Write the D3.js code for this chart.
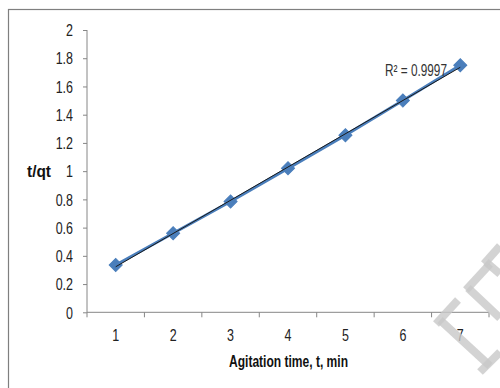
<!DOCTYPE html>
<html><head><meta charset="utf-8">
<script src="https://cdn.jsdelivr.net/npm/d3@7"></script>
<style>body{margin:0;background:#fff}svg{display:block}</style>
</head><body>
<script>
const categories = ["1","2","3","4","5","6","7"];
const tValues = [1,2,3,4,5,6,7];
const tqtValues = [0.335, 0.56, 0.785, 1.02, 1.255, 1.5, 1.75];
const yTicks = [0,0.2,0.4,0.6,0.8,1,1.2,1.4,1.6,1.8,2];
const trendLabel = "R² = 0.9997";

const W=500,H=388;
const svg=d3.select("body").append("svg").attr("width",W).attr("height",H);
svg.append("rect").attr("x",8.5).attr("y",9.5).attr("width",600).attr("height",600)
  .attr("fill","#fff").attr("stroke","#7f7f7f").attr("stroke-width",1.2);

const font="'Liberation Sans',Arial,sans-serif";
const SX=0.78;
const x=d3.scaleBand().domain(categories).range([87,489]);
const y=d3.scaleLinear().domain([0,2]).range([312.3,30]);
const axisColor="#868686";

// y axis
const ya=svg.append("g").attr("transform","translate(87,0)")
  .call(d3.axisLeft(y).tickValues(yTicks).tickSize(4).tickPadding(14).tickFormat(d3.format("~g")));
ya.select(".domain").attr("stroke",axisColor).attr("d",`M0,${y(2)}V${y(0)}`);
ya.selectAll(".tick line").attr("stroke",axisColor);
ya.selectAll(".tick text").attr("font-family",font).attr("font-size",16).attr("fill","#222")
  .attr("dy","0.36em").attr("transform",`scale(${SX},1)`);

// x axis with boundary ticks
const xa=svg.append("g").attr("transform",`translate(0,${y(0)})`)
  .call(d3.axisBottom(x).tickSize(0).tickPadding(17.5));
xa.select(".domain").attr("stroke",axisColor).attr("d",`M87,0H489`);
xa.selectAll(".tick text").attr("font-family",font).attr("font-size",16).attr("fill","#222")
  .attr("transform",`scale(${SX},1)`);
const bounds=categories.map(c=>x(c)).concat([x.range()[1]]);
xa.selectAll(".bt").data(bounds).enter().append("line")
  .attr("x1",d=>d).attr("x2",d=>d).attr("y1",0).attr("y2",5).attr("stroke",axisColor);

// data line
const cx=(d,i)=>x(categories[i])+x.bandwidth()/2;
const pts=tqtValues.map((v,i)=>[cx(v,i),y(v)]);
svg.append("path").attr("d",d3.line()(pts)).attr("fill","none")
  .attr("stroke","#4a7ebb").attr("stroke-width",3);
// markers
svg.selectAll(".mk").data(pts).enter().append("path")
  .attr("transform",d=>`translate(${d[0]},${d[1]}) rotate(45)`)
  .attr("d",d3.symbol().type(d3.symbolSquare).size(85))
  .attr("fill","#4a7ebb").attr("stroke","#4a7ebb").attr("stroke-width",1);

// linear trendline
const n=tValues.length,mx=d3.mean(tValues),my=d3.mean(tqtValues);
const slope=d3.sum(tValues.map((t,i)=>(t-mx)*(tqtValues[i]-my)))/d3.sum(tValues.map(t=>(t-mx)**2));
const icpt=my-slope*mx;
svg.append("line")
  .attr("x1",cx(0,0)).attr("y1",y(icpt+slope*tValues[0]))
  .attr("x2",cx(0,n-1)).attr("y2",y(icpt+slope*tValues[n-1]))
  .attr("stroke","#1a1a1a").attr("stroke-width",1);

svg.append("text").attr("x",385).attr("y",76).attr("font-family",font).attr("font-size",16)
  .attr("fill","#333").attr("textLength",62).attr("lengthAdjust","spacingAndGlyphs").text(trendLabel);

// axis titles
svg.append("text").attr("x",27).attr("y",177).attr("font-family",font).attr("font-size",16)
  .attr("font-weight","bold").attr("fill","#111").attr("textLength",24).attr("lengthAdjust","spacingAndGlyphs").text("t/qt");
svg.append("text").attr("x",229).attr("y",367).attr("font-family",font)
  .attr("font-size",16).attr("font-weight","bold").attr("fill","#111")
  .attr("textLength",119).attr("lengthAdjust","spacingAndGlyphs").text("Agitation time, t, min");

// faint watermark
const wm=svg.append("g").attr("fill","none").attr("stroke","#c8c8c8").attr("stroke-opacity",0.8).attr("stroke-width",8).attr("stroke-linecap","butt");
wm.append("path").attr("d","M440,320 L490,366");
wm.append("path").attr("d","M436,324 L458,300");
wm.append("path").attr("d","M480,372 L500,352");
wm.append("path").attr("d","M468,288 L500,318");
wm.append("path").attr("d","M466,290 L490,264");
wm.append("path").attr("d","M486,262 L500,274");
wm.append("path").attr("d","M484,264 L500,246");
</script>
</body></html>
